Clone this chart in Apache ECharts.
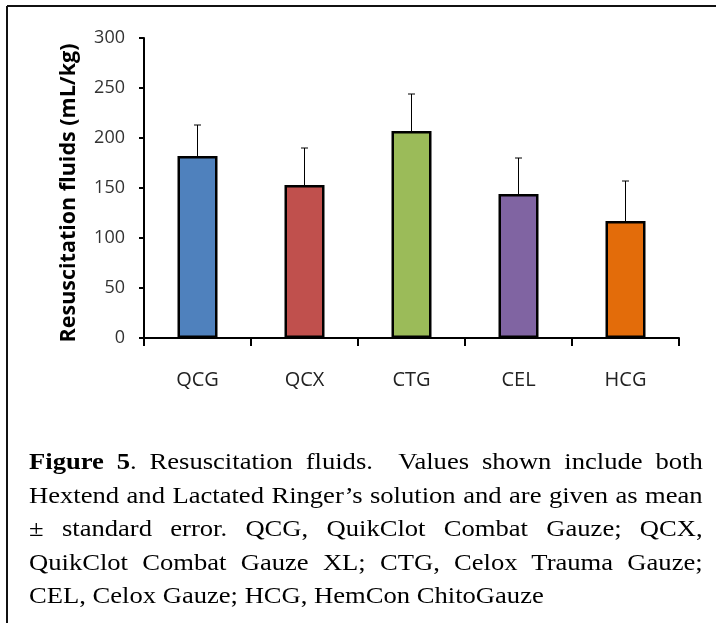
<!DOCTYPE html>
<html>
<head>
<meta charset="utf-8">
<script src="https://cdn.jsdelivr.net/npm/echarts@6/dist/echarts.min.js"></script>
<style>
  html, body { margin: 0; padding: 0; background: #fff; }
  #wrap { position: relative; width: 716px; height: 623px; overflow: hidden; }
  #chart { position: absolute; left: 0; top: 0; width: 716px; height: 623px; }
  #caption { position: absolute; left: 29px; top: 445px; width: 608px;
    transform: scaleX(1.108); transform-origin: 0 0;
    font-family: "Liberation Serif", "Times New Roman", serif; font-size: 24px;
    line-height: 33.6px; color: #000; }
  #caption div { text-align: justify; text-align-last: justify; white-space: nowrap; }
  #caption div.last { text-align-last: left; }
</style>
</head>
<body>
<div id="wrap">
  <div id="chart"></div>
  <div id="caption">
    <div><b>Figure 5</b>. Resuscitation fluids.&nbsp; Values shown include both</div>
    <div>Hextend and Lactated Ringer’s solution and are given as mean</div>
    <div>± standard error. QCG, QuikClot Combat Gauze; QCX,</div>
    <div>QuikClot Combat Gauze XL; CTG, Celox Trauma Gauze;</div>
    <div class="last">CEL, Celox Gauze; HCG, HemCon ChitoGauze</div>
  </div>
</div>
<script>
const categories = ['QCG', 'QCX', 'CTG', 'CEL', 'HCG'];
const means = [182, 153, 207, 144, 117];
const stdErrors = [31, 37, 37, 36, 40];
const barColors = ['#4F81BD', '#C0504D', '#9BBB59', '#8064A2', '#E36C0A'];
const yTicks = [0, 50, 100, 150, 200, 250, 300];

const chart = echarts.init(document.getElementById('chart'), null, { renderer: 'canvas' });

const barData = means.map((v, i) => ({
  value: v,
  itemStyle: { color: barColors[i], borderColor: '#000', borderWidth: 2.5 }
}));
const errData = means.map((v, i) => [i, v, v + stdErrors[i]]);

chart.setOption({
  animation: false,
  backgroundColor: 'transparent',
  grid: { left: 144, right: 37, top: 38, bottom: 285, containLabel: false },
  xAxis: {
    type: 'category',
    data: categories,
    axisLine: { lineStyle: { color: '#000', width: 2 } },
    axisTick: { show: true, length: 8, lineStyle: { color: '#000', width: 2 } },
    axisLabel: { margin: 32, fontFamily: 'Open Sans', fontSize: 20, color: '#222' }
  },
  yAxis: {
    type: 'value',
    min: yTicks[0],
    max: yTicks[yTicks.length - 1],
    interval: 50,
    name: 'Resuscitation fluids (mL/kg)',
    nameLocation: 'middle',
    nameGap: 64,
    nameTextStyle: { fontFamily: 'Open Sans', fontWeight: 'bold', fontSize: 21.5, color: '#000', padding: [0, 10, 0, 0] },
    splitLine: { show: false },
    axisLine: { show: true, lineStyle: { color: '#000', width: 2 } },
    axisTick: { show: true, length: 5, lineStyle: { color: '#000', width: 2 } },
    axisLabel: { margin: 19, fontFamily: 'Open Sans', fontSize: 18, color: '#333' }
  },
  series: [
    {
      type: 'bar',
      data: barData,
      barWidth: 40,
      z: 2
    },
    {
      type: 'custom',
      data: errData,
      z: 1,
      renderItem: function (params, api) {
        const x = api.value(0);
        const base = api.coord([x, api.value(1)]);
        const top = api.coord([x, api.value(2)]);
        const cap = 3.5;
        return {
          type: 'group',
          children: [
            { type: 'line', shape: { x1: base[0], y1: base[1], x2: top[0], y2: top[1] }, style: { stroke: '#000', lineWidth: 1 } },
            { type: 'line', shape: { x1: top[0] - cap, y1: top[1], x2: top[0] + cap, y2: top[1] }, style: { stroke: '#000', lineWidth: 1 } }
          ]
        };
      }
    }
  ],
  graphic: [
    { type: 'line', shape: { x1: 7, y1: 6, x2: 716, y2: 6 }, style: { stroke: '#111', lineWidth: 2 } },
    { type: 'line', shape: { x1: 7, y1: 6, x2: 7, y2: 623 }, style: { stroke: '#111', lineWidth: 2 } }
  ]
});
</script>
</body>
</html>
